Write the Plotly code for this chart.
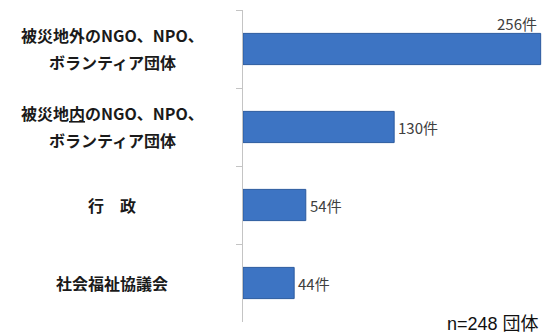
import plotly.graph_objects as go

# Data
line1 = ["被災地外のNGO、NPO、", "被災地<span style=\"text-decoration:underline\">内</span>のNGO、NPO、", "行　政", "社会福祉協議会"]
line2 = ["ボランティア団体", "ボランティア団体", "", ""]
categories = ["被災地外", "被災地内", "行政", "社会福祉協議会"]
counts = [256, 130, 54, 44]
unit = "件"
note = "n=248 団体"

W, H = 545, 336
ML, MR, MT, MB = 243, 2, 10, 14
plot_w = W - ML - MR
CJK = "Noto Sans CJK JP"

fig = go.Figure(
    go.Bar(
        y=categories,
        x=counts,
        orientation="h",
        marker=dict(color="#3d74c3", line=dict(color="#2b5a9e", width=1)),
        hoverinfo="skip",
    )
)

annotations = []
label_cx = (112 - ML) / plot_w  # centre of the category labels, in paper units
label_font = dict(family=CJK, size=16, color="#1a1a1a")
for cat, a, b in zip(categories, line1, line2):
    if b:
        annotations.append(dict(x=label_cx, xref="paper", y=cat, yref="y", text=f"<b>{a}</b>",
                                showarrow=False, xanchor="center", yanchor="middle", yshift=14,
                                font=label_font))
        annotations.append(dict(x=label_cx, xref="paper", y=cat, yref="y", text=f"<b>{b}</b>",
                                showarrow=False, xanchor="center", yanchor="middle", yshift=-13,
                                font=label_font))
    else:
        annotations.append(dict(x=label_cx, xref="paper", y=cat, yref="y", text=f"<b>{a}</b>",
                                showarrow=False, xanchor="center", yanchor="middle",
                                font=label_font))

# Value labels: the longest bar carries its label above the bar end
value_font = dict(family=CJK, size=15, color="#404040")
for i, (cat, v) in enumerate(zip(categories, counts)):
    if i == 0:
        annotations.append(dict(x=v, y=cat, xref="x", yref="y", text=f"{v}{unit}", showarrow=False,
                                xanchor="right", yanchor="middle", yshift=26, xshift=-2,
                                font=value_font))
    else:
        annotations.append(dict(x=v, y=cat, xref="x", yref="y", text=f"{v}{unit}", showarrow=False,
                                xanchor="left", yanchor="middle", xshift=2,
                                font=value_font))

annotations.append(dict(x=(W - 4 - ML) / plot_w, y=-(324 - (H - MB)) / (H - MT - MB),
                        xref="paper", yref="paper", text=note, showarrow=False,
                        xanchor="right", yanchor="middle",
                        font=dict(family="Liberation Sans, " + CJK, size=18, color="#111111")))

fig.update_layout(
    width=W, height=H,
    margin=dict(l=ML, r=MR, t=MT, b=MB),
    paper_bgcolor="white", plot_bgcolor="white",
    bargap=0.6,
    showlegend=False,
    annotations=annotations,
    xaxis=dict(range=[0, 258], visible=False, fixedrange=True),
    yaxis=dict(
        autorange="reversed",
        showline=True, linecolor="#c4c4c4", linewidth=1,
        ticks="outside", ticklen=6, tickcolor="#c4c4c4", tickson="boundaries",
        showticklabels=False, showgrid=False, zeroline=False,
    ),
)

fig.write_html("out.html")
